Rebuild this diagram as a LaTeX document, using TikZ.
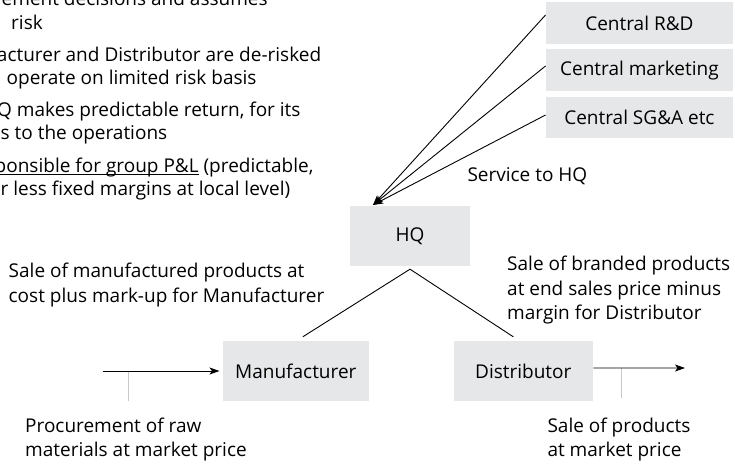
\documentclass[tikz,border=0pt]{standalone}
\usepackage{fontspec}
\setmainfont{Open Sans}
\usetikzlibrary{arrows.meta}
\definecolor{boxgray}{RGB}{230,231,232}
\definecolor{tickgray}{RGB}{200,200,200}
\newcommand\diagfont{\fontsize{19bp}{23.5bp}\selectfont}
\newcommand\myul[1]{\setbox0\hbox{#1}\rlap{\rule[-2.5bp]{\wd0}{0.9bp}}\box0\relax}
\begin{document}
\begin{tikzpicture}[x=1bp,y=-1bp,
  box/.style={fill=boxgray, inner sep=0pt, font=\diagfont},
  lbl/.style={anchor=base west, inner sep=0pt, font=\diagfont},
  conn/.style={line width=0.9bp, draw=black},
  arr/.style={conn, -{Stealth[length=10bp,width=7bp,inset=2.5bp]}},
  tickline/.style={line width=0.9bp, draw=tickgray}]
\useasboundingbox (0,0) rectangle (735,464);
\clip (0,0) rectangle (735,464);

% boxes
\node[box, minimum width=187.3bp, minimum height=42.6bp] (rd)  at (639.4,23)   {Central R\&D};
\node[box, minimum width=187.3bp, minimum height=41.7bp] (mkt) at (639.4,70.2) {Central marketing};
\node[box, minimum width=187.3bp, minimum height=41.6bp] (sga) at (639.4,117.5){Central SG\&A etc};
\node[box, minimum width=120bp,   minimum height=60bp]   (hq)  at (410,236)    {HQ};
\node[box, minimum width=146.3bp, minimum height=60bp]   (man) at (295.8,371)  {Manufacturer};
\node[box, minimum width=138.7bp, minimum height=60bp]   (dist) at (523.3,371) {Distributor};

% service arrows into HQ
\coordinate (tip) at (373,205);
\draw[arr] ([yshift=8bp]rd.west) -- (tip);
\draw[arr] ([yshift=4.2bp]mkt.west) -- (tip);
\draw[arr] ([yshift=2.5bp]sga.west) -- (tip);

% HQ to manufacturer / distributor
\draw[conn] ([xshift=7bp,yshift=4bp]man.north) -- ([yshift=-3bp]hq.south) -- ([xshift=-10bp,yshift=4bp]dist.north);

% procurement arrow
\coordinate (src) at (102.7,371);
\coordinate (srctick) at (128.3,371);
\coordinate (srctickend) at (128.3,401);
\draw[tickline] (srctick) -- (srctickend);
\draw[arr] (src) -- ([xshift=-3bp]man.west);

% sale arrow
\coordinate (sink) at (685,368);
\coordinate (sinktick) at (621.7,368);
\coordinate (sinktickend) at (621.7,398);
\draw[tickline] (sinktick) -- (sinktickend);
\draw[arr] ([xshift=0.6bp,yshift=3bp]dist.east) -- (sink);

% labels
\node[lbl] (svc) at (467.3,182) {Service to HQ};
\node[lbl] (mfa) at (8.5,278) {Sale of manufactured products at};
\node[lbl] (mfb) at (8.5,303) {cost plus mark-up for Manufacturer};
\node[lbl] (dsa) at (507,271) {Sale of branded products};
\node[lbl] (dsb) at (507,296) {at end sales price minus};
\node[lbl] (dsc) at (507,320) {margin for Distributor};
\node[lbl] (pra) at (25,432) {Procurement of raw};
\node[lbl] (prb) at (25,456) {materials at market price};
\node[lbl] (spa) at (547.3,432) {Sale of products};
\node[lbl] (spb) at (547.3,456) {at market price};

% clipped text block at top left
\node[lbl] (ta) at (1.5,6) {ement decisions and assumes};
\node[lbl] (tb) at (11,29.5) {risk};
\node[lbl] (tc) at (-3.2,61.5) {acturer and Distributor are de-risked};
\node[lbl] (td) at (6.5,85) {operate on limited risk basis};
\node[lbl] (te) at (-3,117) {Q makes predictable return, for its};
\node[lbl] (tf) at (0.5,140) {s to the operations};
\node[lbl] (tg) at (-5.5,172.5) {\myul{ponsible for group P\&L} (predictable,};
\node[lbl] (th) at (0.5,196) {r less fixed margins at local level)};
\end{tikzpicture}
\end{document}
